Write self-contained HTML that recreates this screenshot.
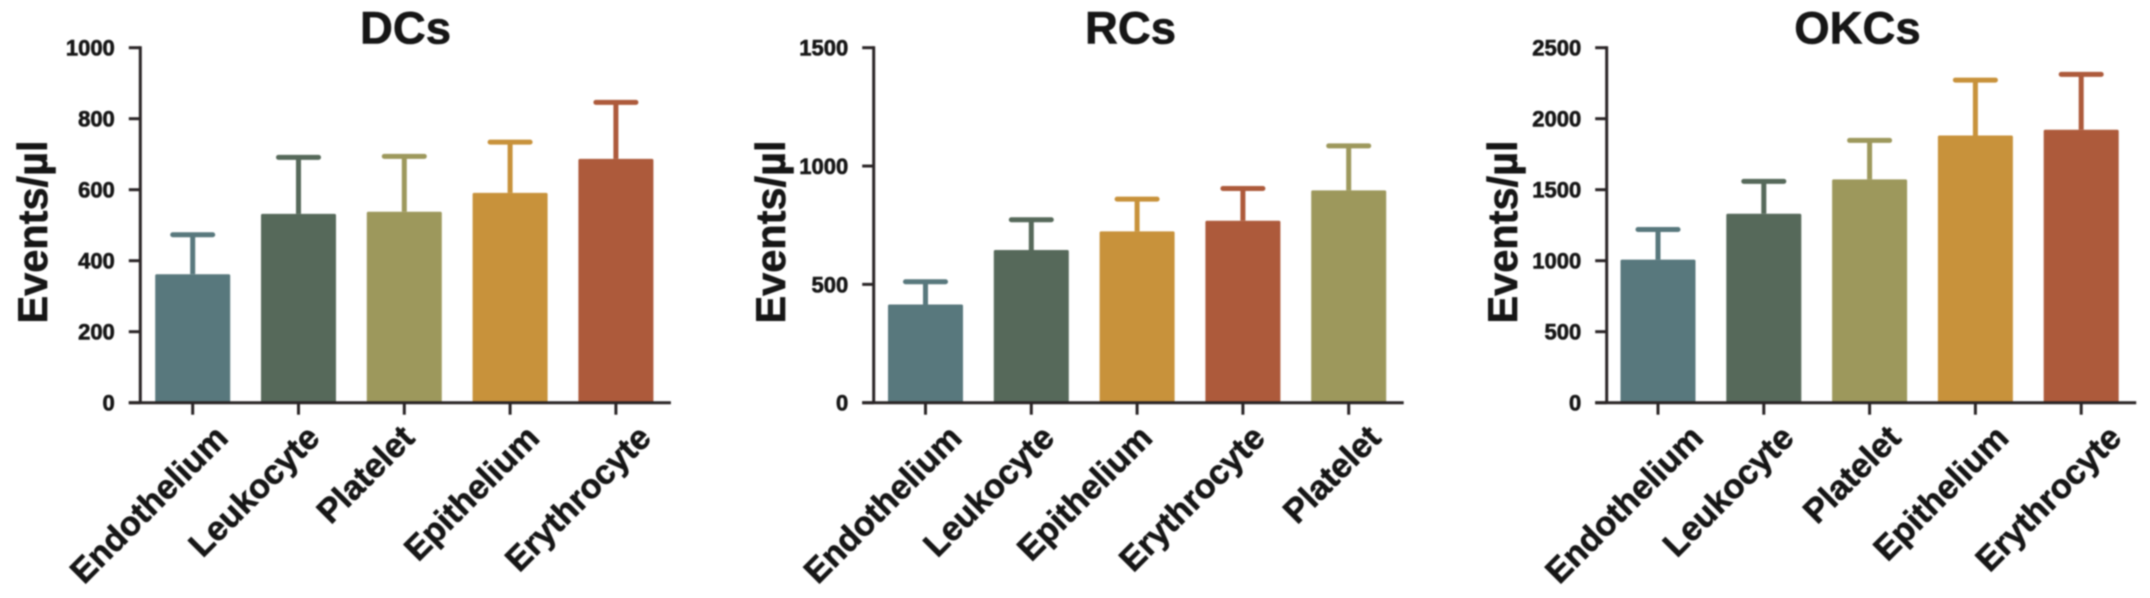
<!DOCTYPE html>
<html lang="en">
<head>
<meta charset="utf-8">
<title>Events per microlitre in DCs, RCs and OKCs</title>
<style>
  html, body { margin: 0; padding: 0; background: #fff; }
  #figure { display: block; width: 2150px; height: 598px; filter: blur(0.7px); }
  text { font-family: "Liberation Sans", Arial, sans-serif; font-weight: 700; fill: #161616; stroke: #161616; stroke-width: 0.6px; }
</style>
</head>
<body>
<svg id="figure" xmlns="http://www.w3.org/2000/svg" width="2150" height="598" viewBox="0 0 2150 598"></svg>
<script>
const dcTitle = "DCs";
const dcCategories = ["Endothelium", "Leukocyte", "Platelet", "Epithelium", "Erythrocyte"];
const dcMeans = [362, 532, 538, 591, 687];
const dcUpper = [473, 691, 694, 734, 846];
const dcTicks = [0, 200, 400, 600, 800, 1000];

const rcTitle = "RCs";
const rcCategories = ["Endothelium", "Leukocyte", "Epithelium", "Erythrocyte", "Platelet"];
const rcMeans = [415, 645, 724, 769, 897];
const rcUpper = [511, 773, 860, 905, 1085];
const rcTicks = [0, 500, 1000, 1500];

const okcTitle = "OKCs";
const okcCategories = ["Endothelium", "Leukocyte", "Platelet", "Epithelium", "Erythrocyte"];
const okcMeans = [1008, 1331, 1573, 1882, 1922];
const okcUpper = [1220, 1559, 1847, 2272, 2312];
const okcTicks = [0, 500, 1000, 1500, 2000, 2500];

const yLabel = "Events/µl";

const categoryColor = {
  Endothelium: "#58787d",
  Leukocyte: "#56695a",
  Platelet: "#9d985c",
  Epithelium: "#c8923b",
  Erythrocyte: "#ad5a3b"
};

const SVG_NS = "http://www.w3.org/2000/svg";
const figure = document.getElementById("figure");
const AXIS_COLOR = "#2a2526";
const PLOT_TOP = 47.7;
const PLOT_BOTTOM = 402.7;
const BAND = 105.8;
const BAR_WIDTH = 75;
const CAP_WIDTH = 40;

function make(tag, parent, attrs, text) {
  const el = document.createElementNS(SVG_NS, tag);
  for (const key in attrs) el.setAttribute(key, attrs[key]);
  if (text !== undefined) el.textContent = text;
  parent.appendChild(el);
  return el;
}

function drawPanel(key, title, categories, means, upper, ticks, layout) {
  const axisX = layout.axisX;
  const firstTickX = layout.firstTickX;
  const yMax = ticks[ticks.length - 1];
  const yScale = v => PLOT_BOTTOM - (v / yMax) * (PLOT_BOTTOM - PLOT_TOP);
  const xScale = i => firstTickX + i * BAND;

  const panel = make("g", figure, {});
  
  

  const titleEl = make("text", panel, { x: layout.titleX, y: 43.5, "text-anchor": "middle", "font-size": 45.5 }, title);
  
  

  const yTitle = make("text", panel, {
    transform: "translate(" + layout.yLabelX + ",232) rotate(-90)",
    "text-anchor": "middle",
    "font-size": 41.5
  }, yLabel);
  
  

  categories.forEach((cat, i) => {
    const color = categoryColor[cat];
    const cx = xScale(i);
    const topY = yScale(means[i]);
    const upY = yScale(upper[i]);

    const stem = make("line", panel, { x1: cx, x2: cx, y1: upY, y2: topY, stroke: color, "stroke-width": 5 });
    
    

    const cap = make("line", panel, { x1: cx - CAP_WIDTH / 2, x2: cx + CAP_WIDTH / 2, y1: upY, y2: upY, stroke: color, "stroke-width": 5, "stroke-linecap": "round" });
    
    

    const bar = make("rect", panel, { x: cx - BAR_WIDTH / 2, y: topY, width: BAR_WIDTH, height: PLOT_BOTTOM - topY, fill: color, rx: 1.5 });
    
    

    const tick = make("line", panel, { x1: cx, x2: cx, y1: PLOT_BOTTOM, y2: PLOT_BOTTOM + 12, stroke: AXIS_COLOR, "stroke-width": 3 });
    
    

    const label = make("text", panel, {
      transform: "translate(" + (cx + layout.labelShift[cat]) + "," + (PLOT_BOTTOM + 37) + ") rotate(-45)",
      "text-anchor": "end",
      "font-size": 34
    }, cat);
    
    
  });

  ticks.forEach(t => {
    const y = yScale(t);
    const tick = make("line", panel, { x1: axisX - 11.5, x2: axisX, y1: y, y2: y, stroke: AXIS_COLOR, "stroke-width": 3 });
    
    

    const label = make("text", panel, { x: axisX - 25.5, y: y + 8, "text-anchor": "end", "font-size": 22 }, String(t));
    
    
  });

  const yAxis = make("line", panel, { x1: axisX, x2: axisX, y1: PLOT_TOP - 1.5, y2: PLOT_BOTTOM, stroke: AXIS_COLOR, "stroke-width": 3 });
  
  

  const xAxis = make("line", panel, { x1: axisX - 11.5, x2: firstTickX + 4 * BAND + 55, y1: PLOT_BOTTOM, y2: PLOT_BOTTOM, stroke: AXIS_COLOR, "stroke-width": 3 });
  
  
}

drawPanel("dcs", dcTitle, dcCategories, dcMeans, dcUpper, dcTicks, {
  axisX: 140.3, firstTickX: 192.7, titleX: 405.5, yLabelX: 47,
  labelShift: { Endothelium: 37, Leukocyte: 23, Platelet: 12, Epithelium: 31, Erythrocyte: 37 }
});
drawPanel("rcs", rcTitle, rcCategories, rcMeans, rcUpper, rcTicks, {
  axisX: 873.7, firstTickX: 925.5, titleX: 1130.5, yLabelX: 785,
  labelShift: { Endothelium: 38, Leukocyte: 25, Epithelium: 17, Erythrocyte: 24, Platelet: 34 }
});
drawPanel("okcs", okcTitle, okcCategories, okcMeans, okcUpper, okcTicks, {
  axisX: 1606.7, firstTickX: 1658, titleX: 1857.5, yLabelX: 1517,
  labelShift: { Endothelium: 47, Leukocyte: 32, Platelet: 33, Epithelium: 35, Erythrocyte: 42 }
});
</script>
</body>
</html>
